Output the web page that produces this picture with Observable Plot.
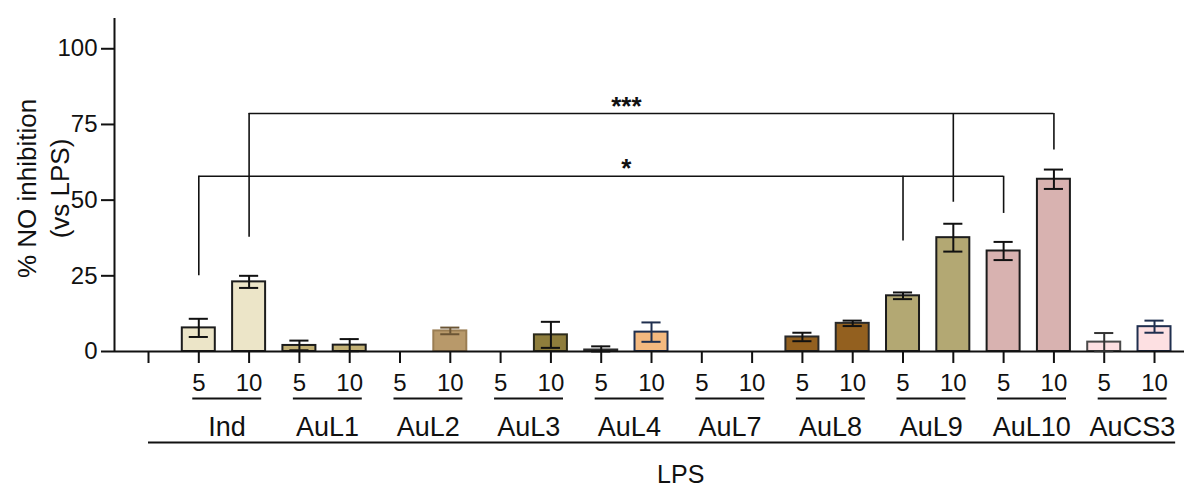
<!DOCTYPE html>
<html><head><meta charset="utf-8">
<script src="https://cdn.jsdelivr.net/npm/d3@7"></script>
<script src="https://cdn.jsdelivr.net/npm/@observablehq/plot@0.6"></script>
<style>body{margin:0;background:#fff} svg{display:block}</style>
</head><body><div id="chart"></div>
<script>
// ---- data ----
const groups = ["Ind","AuL1","AuL2","AuL3","AuL4","AuL7","AuL8","AuL9","AuL10","AuCS3"];
const doses = ["5","10"];
const means  = [7.8, 23.0, 2.0, 2.1, null, 6.8, null, 5.5, 0.5, 6.4, null, null, 4.8, 9.3, 18.4, 37.6, 33.2, 56.9, 3.1, 8.2];
const errors = [3.0, 2.0, 1.6, 2.0, null, 1.1, null, 4.3, 1.2, 3.2, null, null, 1.4, 0.9, 1.1, 4.6, 3.0, 3.2, 3.0, 2.0];
const fills   = ["#ece5c8","#c2b074","#b8996a","#8e7d3c","#f4b97f","#c9c9c9","#93601f","#b3a873","#d8b2b0","#fde0e2"];
// per bar (group x dose)
const strokes = ["#1c1c1c","#1c1c1c","#1c1c1c","#1c1c1c","#9a7d52","#9a7d52","#2b2a1a","#2b2a1a","#2a2a2a","#1f2f4f",
                 "#1c1c1c","#1c1c1c","#2a2a2a","#2a2a2a","#1c1c1c","#1c1c1c","#1c1c1c","#1c1c1c","#4a4a4a","#1f2f4f"];
const errColors = ["#111","#111","#111","#111","#6b5535","#6b5535","#111","#111","#111","#1f2f4f",
                   "#111","#111","#111","#111","#111","#111","#111","#111","#333","#1f2f4f"];
const yTicks = [0, 25, 50, 75, 100];
const yLabel = "% NO inhibition\n(vs LPS)";
const xTitle = "LPS";
// significance brackets (positions in category index units / y data units)
const sigLabels = ["*", "***"];
const sigLevels = [57.9, 78.6];
const sigFrom = [1, 2];
const sigTo = [17, 18];
const sigLabelX = [9.5, 9.5];
const sigDrops = [
  [[1, 25.0], [15, 36.5], [17, 45.6]],
  [[2, 37.7], [16, 49.3], [18, 66.6]]
];

// ---- derived tables ----
const xMin = -0.676, xMax = 20.596;
const rows = [];
groups.forEach((g, gi) => doses.forEach((d, di) => {
  const k = gi * 2 + di;
  rows.push({idx: k + 1, group: g, dose: d, mean: means[k], err: errors[k],
             fill: fills[gi], stroke: strokes[k], ec: errColors[k]});
}));
const bars = rows.filter(r => r.mean != null);
const errs = rows.filter(r => r.err != null).map(r => ({...r, lo: Math.max(0, r.mean - r.err), hi: r.mean + r.err}));
const groupRows = groups.map((g, gi) => ({name: g, i0: gi * 2 + 1, i1: gi * 2 + 2}));
const tickIdx = d3.range(0, rows.length + 1);
const tickLabel = i => i === 0 ? "" : rows[i - 1].dose;
const sig = sigLabels.map((s, k) => ({label: s, y: sigLevels[k], x1: sigFrom[k], x2: sigTo[k], lx: sigLabelX[k]}));
const drops = sigDrops.flatMap((arr, k) => arr.map(([x, y]) => ({x, y1: y, y2: sigLevels[k]})));

const halfBar = 0.328, halfCap = 0.19;

const chart = Plot.plot({
  width: 1184, height: 488,
  marginLeft: 114, marginRight: 0, marginTop: 18, marginBottom: 137,
  style: {fontFamily: "'Liberation Sans', Arial, sans-serif", color: "#111", background: "#fff"},
  x: {domain: [xMin, xMax], axis: null},
  y: {domain: [0, 110], axis: null},
  color: {type: "identity"},
  marks: [
    // y axis
    Plot.axisY({ticks: yTicks, tickSize: 13, tickPadding: 4, fontSize: 24, strokeWidth: 2, label: null, tickFormat: d => d}),
    Plot.ruleX([xMin], {y1: 0, y2: 110, stroke: "#111", strokeWidth: 2}),
    // x axis
    Plot.axisX({ticks: tickIdx, tickSize: 12, tickPadding: 10, fontSize: 24, strokeWidth: 2, label: null, tickFormat: tickLabel}),
    // bars
    Plot.rectY(bars, {x1: d => d.idx - halfBar, x2: d => d.idx + halfBar, y1: 0, y2: "mean",
      fill: "fill", stroke: "stroke", strokeWidth: 2}),
    Plot.ruleY([0], {stroke: "#111", strokeWidth: 2}),
    // error bars
    Plot.ruleX(errs, {x: "idx", y1: "lo", y2: "hi", stroke: "ec", strokeWidth: 2}),
    Plot.ruleY(errs, {y: "hi", x1: d => d.idx - halfCap, x2: d => d.idx + halfCap, stroke: "ec", strokeWidth: 2}),
    Plot.ruleY(errs, {y: "lo", x1: d => d.idx - halfCap, x2: d => d.idx + halfCap, stroke: "ec", strokeWidth: 2}),
    // significance brackets
    Plot.ruleY(sig, {y: "y", x1: "x1", x2: "x2", stroke: "#111", strokeWidth: 1.6}),
    Plot.ruleX(drops, {x: "x", y1: "y1", y2: "y2", stroke: "#111", strokeWidth: 1.6}),
    Plot.text(sig, {x: "lx", y: "y", text: "label", lineAnchor: "bottom", dy: 1, fontSize: 26, fontWeight: 600, fill: "#111"}),
    // group underlines and labels
    Plot.ruleY(groupRows, {y: 0, x1: d => d.i0 - 0.12, x2: d => d.i1 + 0.25, dy: 47, stroke: "#111", strokeWidth: 2}),
    Plot.text(groupRows, {x: d => (d.i0 + d.i1) / 2 + 0.06, y: 0, text: "name", dy: 84, lineAnchor: "bottom", fontSize: 27, fill: "#111"}),
    // LPS line + label
    Plot.ruleY([0], {x1: 0, x2: 20.42, dy: 91, stroke: "#111", strokeWidth: 2}),
    Plot.text([xTitle], {x: 10.58, y: 0, text: d => d, dy: 131, lineAnchor: "bottom", fontSize: 25, fill: "#111"}),
    // y label
    Plot.text([yLabel], {x: xMin, y: 53.85, dx: -72.5, text: d => d, rotate: -90, fontSize: 26, lineHeight: 1.27, fill: "#111"})
  ]
});
document.getElementById("chart").appendChild(chart);
</script>
</body></html>
